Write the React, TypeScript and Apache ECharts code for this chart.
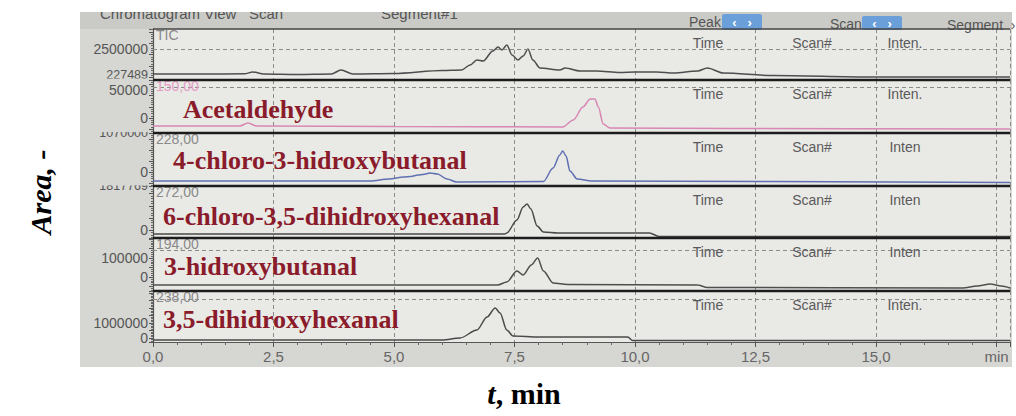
import React, { useEffect, useRef } from "react";
import * as echarts from "echarts";

// ---- data (retention time in min, intensity) ----
const ticTrace: [number, number][] = [
  [0, 314900], [1.0, 314900], [1.9, 332400], [2.07, 489700], [2.3, 314900], [3.0, 271200],
  [3.7, 314900], [3.9, 664500], [4.15, 314900], [5.0, 358600], [6.0, 620800], [6.4, 664500],
  [6.58, 1101500], [6.72, 1538500], [6.85, 1451100], [7.05, 2325200], [7.16, 2674800],
  [7.24, 2412600], [7.34, 2849600], [7.45, 1975600], [7.57, 1538500], [7.68, 1888200],
  [7.78, 2500000], [7.88, 1538500], [8.03, 839300], [8.44, 664500], [8.55, 839300],
  [8.86, 577100], [9.2, 577100], [9.69, 446000], [10.0, 489700], [10.45, 489700],
  [10.8, 402300], [11.3, 577100], [11.5, 839300], [11.83, 402300], [12.86, 183800],
  [14.9, 52700], [17.78, 52700],
];
const acetaldehydeTrace: [number, number][] = [
  [0, -14286], [1.8, -14286], [1.97, -8929], [2.15, -14286], [5.0, -15200], [8.5, -16072],
  [8.72, -3572], [8.92, 19642], [9.07, 33928], [9.17, 33928], [9.24, 19642], [9.34, -10715],
  [9.48, -17857], [12.0, -18750], [17.78, -19643],
];
const chloroHydroxybutanalTrace: [number, number][] = [
  [0, -246800], [4.5, -246800], [4.9, -192000], [5.2, -137000], [5.35, -120000], [5.5, -82000],
  [5.6, -70000], [5.75, -27300], [5.9, -54800], [6.1, -192000], [6.3, -274300], [8.1, -260500],
  [8.3, 109800], [8.44, 466500], [8.5, 576300], [8.57, 439000], [8.65, 27500], [8.8, -192000],
  [9.1, -246800], [17.78, -288000],
];
const chloroDihydroxyhexanalTrace: [number, number][] = [
  [0, -165300], [7.3, -165300], [7.34, -124000], [7.55, 413100], [7.68, 950200], [7.76, 1074100],
  [7.84, 867600], [7.97, 165300], [8.1, -82600], [8.4, -124000], [10.3, -124000], [10.5, -268500],
  [17.78, -268500],
];
const hydroxybutanalTrace: [number, number][] = [
  [0, -42100], [6.5, -42100], [7.15, -42100], [7.34, -26300], [7.55, 31600], [7.68, 10500],
  [7.85, 63100], [7.98, 100000], [8.1, 31600], [8.3, -31600], [8.6, -39500], [11.3, -42100],
  [11.5, -55300], [16.8, -57900], [17.1, -47400], [17.37, -36900], [17.6, -47400], [17.78, -57900],
];
const dihydroxyhexanalTrace: [number, number][] = [
  [0, -133333], [6.0, -133333], [6.37, 0], [6.72, 533333], [6.93, 1400000], [7.1, 2000000],
  [7.2, 1666667], [7.34, 533333], [7.47, 133333], [8.0, 66667], [9.85, 66667], [9.95, -166667],
  [17.78, -166667],
];

const traces = [
  ticTrace, acetaldehydeTrace, chloroHydroxybutanalTrace,
  chloroDihydroxyhexanalTrace, hydroxybutanalTrace, dihydroxyhexanalTrace,
];
const compoundNames = [
  "", "Acetaldehyde", "4-chloro-3-hidroxybutanal", "6-chloro-3,5-dihidroxyhexanal",
  "3-hidroxybutanal", "3,5-dihidroxyhexanal",
];
const channelNames = ["TIC", "150,00", "228,00", "272,00", "194,00", "238,00"];
const yMins = [-209531, -26786, -384000, -330500, -73700, -266667];
const yMaxs = [4248073, 67857, 1070000, 1817769, 205000, 3133333];
const yLabelValues = [[227489, 2500000], [0, 50000], [0, 1070000], [0, 1817769], [0, 100000], [0, 1000000]];
const yPartialLabels = [227489, 1070000, 1817769];
const yGuideValues: (number | null)[] = [2500000, 55000, null, null, 140000, 2600000];
const peakHeads = [
  ["Time", "Scan#", "Inten."], ["Time", "Scan#", "Inten."], ["Time", "Scan#", "Inten"],
  ["Time", "Scan#", "Inten"], ["Time", "Scan#", "Inten"], ["Time", "Scan#", "Inten."],
];
const timeMin = 0;
const timeMax = 17.78;
const timeStep = 2.5;

// ---- layout / style ----
const PLOT_L = 153;
const PLOT_R = 1010;
const tops = [29, 80, 133, 186, 238, 291];
const heights = [51, 53, 53, 52, 53, 51];
const lineColors = ["#4e4e4e", "#d887b4", "#6070b2", "#4a4a4a", "#4e4e4e", "#4a4a4a"];
const MARGIN_BG = "#d6d6d2";
const PLOT_BG = "#e9e9e6";
const GRID_C = "#8a8a88";
const RED = "#8a1b2b";
const SANS = "Liberation Sans, Arial, sans-serif";
const SERIF = "Liberation Serif, Times New Roman, serif";

export default function App() {
  const ref = useRef<HTMLDivElement>(null);
  useEffect(() => {
    if (!ref.current) return;
    const chart = echarts.init(ref.current, null, { renderer: "svg" });
    const n = traces.length;
    const grids = tops.map((t, i) => ({ left: PLOT_L, width: PLOT_R - PLOT_L, top: t, height: heights[i] }));
    const xAxes = tops.map((_, i) => ({
      gridIndex: i,
      type: "value",
      min: timeMin,
      max: timeMax,
      interval: timeStep,
      axisLine: { show: i === n - 1, onZero: false, lineStyle: { color: "#555", width: 1.2 } },
      axisTick: { show: i === n - 1, length: 5, lineStyle: { color: "#555" } },
      minorTick: { show: i === n - 1, splitNumber: 5, length: 3, lineStyle: { color: "#666" } },
      axisLabel: {
        show: i === n - 1,
        color: "#666",
        fontSize: 15,
        fontFamily: SANS,
        margin: 7,
        formatter: (v: number) => {
          if (Math.abs(v - 17.5) < 1e-6) return "min";
          if (Math.abs(v / timeStep - Math.round(v / timeStep)) > 1e-6) return "";
          return v.toFixed(1).replace(".", ",");
        },
      },
      splitLine: { show: true, interval: 0, lineStyle: { color: GRID_C, type: [4, 3], width: 1 } },
    }));
    const yAxes = tops.map((_, i) => ({
      gridIndex: i,
      type: "value",
      min: yMins[i],
      max: yMaxs[i],
      axisLine: { show: true, lineStyle: { color: "#555", width: 1.2 } },
      axisTick: { show: true, length: 4, lineStyle: { color: "#555" } },
      minorTick: { show: true, splitNumber: 5, length: 2, lineStyle: { color: "#666" } },
      axisLabel: {
        show: true,
        customValues: yLabelValues[i],
        color: "#555",
        fontSize: 14,
        fontFamily: SANS,
        margin: 5,
        formatter: (v: number) => {
          const s = String(Math.round(v));
          return yPartialLabels.includes(Math.round(v)) ? `{s|${s}}` : s;
        },
        rich: { s: { fontSize: 12.5, fontFamily: SANS, color: "#555" } },
      },
      splitLine: { show: false },
    }));
    const series = traces.map((data, i) => ({
      type: "line",
      xAxisIndex: i,
      yAxisIndex: i,
      data,
      symbol: "none",
      smooth: 0.3,
      smoothMonotone: "x",
      lineStyle: { color: lineColors[i], width: 1.5 },
      markLine:
        yGuideValues[i] === null
          ? undefined
          : {
              silent: true,
              symbol: ["none", "none"],
              label: { show: false },
              lineStyle: { color: GRID_C, type: [4, 3], width: 1 },
              data: [{ yAxis: yGuideValues[i] }],
            },
    }));

    const g: any[] = [];
    // photo frame backgrounds
    g.push({ type: "rect", z: -20, silent: true, shape: { x: 80, y: 12, width: 932, height: 355 }, style: { fill: MARGIN_BG } });
    g.push({ type: "rect", z: -19, silent: true, shape: { x: PLOT_L, y: 29, width: PLOT_R - PLOT_L, height: 313 }, style: { fill: PLOT_BG } });
    g.push({ type: "rect", z: -18, silent: true, shape: { x: 80, y: 12, width: 932, height: 17 }, style: { fill: "#cacac6" } });
    // header bar texts
    g.push({ type: "text", z: 30, x: 100, y: 13, style: { text: "Chromatogram View   Scan", fill: "#555", font: `15px ${SANS}`, verticalAlign: "middle" } });
    g.push({ type: "text", z: 30, x: 381, y: 13, style: { text: "Segment#1", fill: "#555", font: `15px ${SANS}`, verticalAlign: "middle" } });
    g.push({ type: "text", z: 30, x: 689, y: 22, style: { text: "Peak", fill: "#555", font: `14px ${SANS}`, verticalAlign: "middle" } });
    g.push({ type: "rect", z: 30, shape: { x: 722, y: 14, width: 40, height: 16, r: 2 }, style: { fill: "#6a9fda" } });
    g.push({ type: "text", z: 31, x: 742, y: 22, style: { text: "‹   ›", fill: "#fff", font: `bold 13px ${SANS}`, align: "center", verticalAlign: "middle" } });
    g.push({ type: "text", z: 30, x: 830, y: 24, style: { text: "Scan", fill: "#555", font: `14px ${SANS}`, verticalAlign: "middle" } });
    g.push({ type: "rect", z: 30, shape: { x: 862, y: 16, width: 40, height: 14, r: 2 }, style: { fill: "#6a9fda" } });
    g.push({ type: "text", z: 31, x: 882, y: 23, style: { text: "‹   ›", fill: "#fff", font: `bold 13px ${SANS}`, align: "center", verticalAlign: "middle" } });
    g.push({ type: "text", z: 30, x: 947, y: 25, style: { text: "Segment  ›", fill: "#555", font: `14px ${SANS}`, verticalAlign: "middle" } });
    // white cover for the cut-off photo top
    g.push({ type: "rect", z: 60, silent: true, shape: { x: 0, y: 0, width: 1016, height: 12 }, style: { fill: "#ffffff" } });
    // covers emulating labels partly hidden by neighbouring panels
    g.push({ type: "rect", z: 45, silent: true, shape: { x: 82, y: 78.5, width: 66, height: 3 }, style: { fill: MARGIN_BG } });
    g.push({ type: "rect", z: 45, silent: true, shape: { x: 82, y: 124, width: 66, height: 8 }, style: { fill: MARGIN_BG } });
    g.push({ type: "rect", z: 45, silent: true, shape: { x: 82, y: 177, width: 66, height: 8.5 }, style: { fill: MARGIN_BG } });
    // panel frames
    g.push({ type: "line", z: 40, silent: true, shape: { x1: PLOT_L, y1: tops[0], x2: PLOT_R, y2: tops[0] }, style: { stroke: "#444", lineWidth: 1.5 } });
    for (let i = 1; i < n; i++) {
      g.push({ type: "line", z: 40, silent: true, shape: { x1: PLOT_L, y1: tops[i], x2: PLOT_R, y2: tops[i] }, style: { stroke: "#1c1c1c", lineWidth: 2.5 } });
    }
    // panel texts
    for (let i = 0; i < n; i++) {
      g.push({
        type: "text", z: 35, x: 156, y: tops[i] + 6,
        style: { text: channelNames[i], fill: i === 1 ? "#e59cc4" : "#8a8a8a", font: `14px ${SANS}`, verticalAlign: "middle" },
      });
      const hx = [708, 812, 905];
      peakHeads[i].forEach((h, j) => {
        g.push({
          type: "text", z: 35, x: hx[j], y: tops[i] + 14,
          style: { text: h, fill: "#5a5a5a", font: `14px ${SANS}`, align: "center", verticalAlign: "middle" },
        });
      });
    }
    const nameX = [0, 183, 173, 163, 164, 163];
    const nameY = [0, 109, 160, 216, 266, 319];
    for (let i = 1; i < n; i++) {
      g.push({
        type: "text", z: 36, x: nameX[i], y: nameY[i],
        style: { text: compoundNames[i], fill: RED, font: `bold 26px ${SERIF}`, verticalAlign: "middle" },
      });
    }
    // outer axis titles
    g.push({
      type: "text", z: 36, x: 40, y: 192, rotation: Math.PI / 2,
      style: { text: "Area, -", fill: "#000", font: `italic bold 30px ${SERIF}`, align: "center", verticalAlign: "middle" },
    });
    g.push({
      type: "text", z: 36, x: 524, y: 393,
      style: {
        text: "{i|t}, min",
        fill: "#000",
        font: `bold 30px ${SERIF}`,
        align: "center",
        verticalAlign: "middle",
        rich: { i: { fontStyle: "italic", fontWeight: "bold", fontSize: 30, fontFamily: SERIF, fill: "#000" } },
      },
    });

    chart.setOption({
      animation: false,
      backgroundColor: "#ffffff",
      grid: grids,
      xAxis: xAxes,
      yAxis: yAxes,
      series,
      graphic: { elements: g },
    });
    return () => chart.dispose();
  }, []);
  return <div ref={ref} style={{ position: "fixed", left: 0, top: 0, width: 1016, height: 416 }} />;
}
